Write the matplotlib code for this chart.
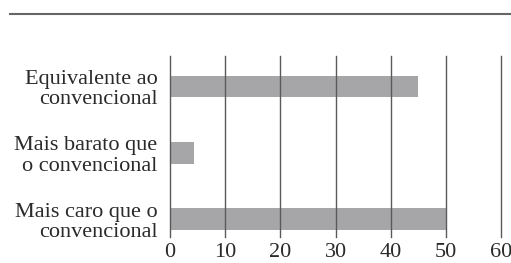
import matplotlib
matplotlib.use('Agg')
import matplotlib.pyplot as plt
from matplotlib.lines import Line2D

categories = ['Equivalente ao\nconvencional', 'Mais barato que\no convencional', 'Mais caro que o\nconvencional']
values = [45, 4.4, 50]
xticks = [0, 10, 20, 30, 40, 50, 60]

plt.rcParams['font.family'] = ['Liberation Serif', 'DejaVu Serif']

W, H = 511, 263
fig = plt.figure(figsize=(W / 100, H / 100), dpi=100)
fig.patch.set_facecolor('white')

ax = fig.add_axes([170 / W, 1 - 237 / H, (501 - 170) / W, (237 - 56) / H])
ypos = list(range(len(categories)))
ax.barh(ypos, values, height=0.33, color='#a6a6a8', zorder=1)

for x in xticks:
    ax.axvline(x, color='#5a5a5a', linewidth=1.0, zorder=2, clip_on=False)

ax.set_xlim(0, 60)
ax.set_ylim(2.27, -0.46)
ax.set_xticks(xticks)
ax.set_xticklabels([str(x) for x in xticks], fontsize=16, color='#2a2a2a')
ax.set_yticks(ypos)
ax.set_yticklabels(categories, fontsize=16, color='#2a2a2a', linespacing=1.1)
ax.tick_params(length=0, pad=9)
ax.tick_params(axis='x', pad=4)
for s in ax.spines.values():
    s.set_visible(False)

fig.add_artist(Line2D([10 / W, 1], [1 - 14 / H, 1 - 14 / H], transform=fig.transFigure,
                      color='#666666', linewidth=1.5))

fig.savefig('out.png', dpi=100)
